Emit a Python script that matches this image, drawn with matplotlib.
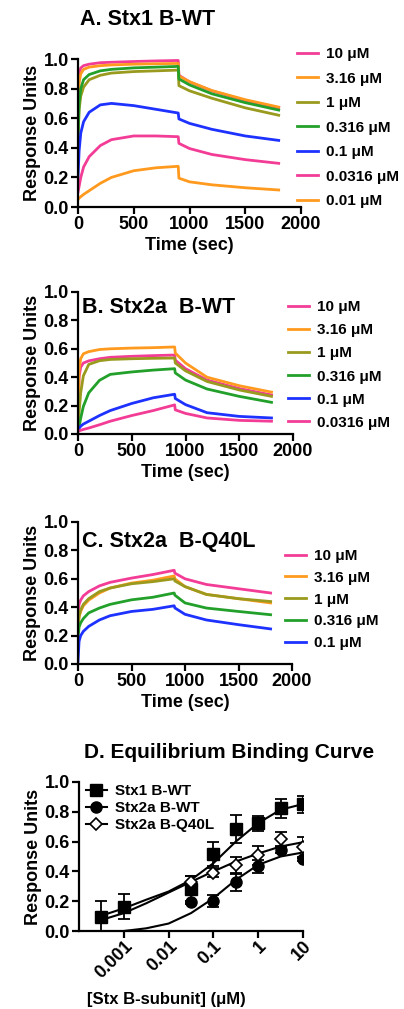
import numpy as np
from matplotlib import pyplot as plt

plt.rcParams['font.family'] = ['Liberation Sans', 'DejaVu Sans']
plt.rcParams['font.weight'] = 'bold'
plt.rcParams['axes.labelweight'] = 'bold'

# sensorgram sample times (sec), injection stops at 900 s
time_s = [0, 10, 25, 50, 100, 200, 300, 500, 700, 899, 905, 1000, 1200, 1500, 1800]

# A. Stx1 B-WT
a_labels = ["10 μM", "3.16 μM", "1 μM", "0.316 μM", "0.1 μM", "0.0316 μM", "0.01 μM"]
a_10 = [0.60, 0.90, 0.94, 0.955, 0.965, 0.975, 0.978, 0.983, 0.987, 0.99, 0.89, 0.845, 0.785, 0.72, 0.67]
a_316 = [0.55, 0.84, 0.90, 0.93, 0.945, 0.955, 0.96, 0.965, 0.968, 0.97, 0.885, 0.847, 0.787, 0.725, 0.675]
a_1 = [0.45, 0.66, 0.75, 0.81, 0.86, 0.89, 0.905, 0.915, 0.92, 0.925, 0.82, 0.785, 0.735, 0.67, 0.62]
a_0316 = [0.45, 0.70, 0.80, 0.86, 0.895, 0.92, 0.93, 0.94, 0.945, 0.95, 0.865, 0.825, 0.765, 0.705, 0.655]
a_01 = [0.20, 0.38, 0.50, 0.576, 0.64, 0.69, 0.70, 0.685, 0.66, 0.635, 0.595, 0.565, 0.525, 0.48, 0.45]
a_00316 = [0.10, 0.14, 0.20, 0.27, 0.34, 0.415, 0.455, 0.48, 0.48, 0.475, 0.43, 0.395, 0.355, 0.32, 0.295]
a_001 = [0.05, 0.06, 0.07, 0.085, 0.11, 0.16, 0.20, 0.245, 0.265, 0.275, 0.195, 0.17, 0.15, 0.13, 0.115]

# B. Stx2a B-WT
b_labels = ["10 μM", "3.16 μM", "1 μM", "0.316 μM", "0.1 μM", "0.0316 μM"]
b_10 = [0.03, 0.40, 0.47, 0.50, 0.515, 0.53, 0.54, 0.547, 0.552, 0.556, 0.52, 0.46, 0.38, 0.32, 0.275]
b_316 = [0.03, 0.45, 0.53, 0.565, 0.58, 0.595, 0.60, 0.605, 0.608, 0.613, 0.57, 0.50, 0.40, 0.34, 0.295]
b_1 = [0.02, 0.15, 0.29, 0.41, 0.49, 0.516, 0.525, 0.53, 0.533, 0.535, 0.50, 0.445, 0.37, 0.31, 0.265]
b_0316 = [0.02, 0.05, 0.11, 0.195, 0.29, 0.378, 0.42, 0.437, 0.45, 0.46, 0.43, 0.38, 0.317, 0.265, 0.223]
b_01 = [0.03, 0.04, 0.055, 0.07, 0.09, 0.13, 0.165, 0.215, 0.255, 0.28, 0.25, 0.207, 0.15, 0.124, 0.113]
b_00316 = [0.02, 0.022, 0.026, 0.032, 0.042, 0.065, 0.09, 0.13, 0.165, 0.205, 0.17, 0.145, 0.113, 0.096, 0.09]

# C. Stx2a B-Q40L
c_labels = ["10 μM", "3.16 μM", "1 μM", "0.316 μM", "0.1 μM"]
c_10 = [0.30, 0.42, 0.45, 0.48, 0.51, 0.55, 0.575, 0.605, 0.63, 0.66, 0.64, 0.60, 0.56, 0.53, 0.50]
c_316 = [0.25, 0.33, 0.37, 0.41, 0.45, 0.50, 0.535, 0.57, 0.59, 0.62, 0.60, 0.545, 0.49, 0.46, 0.43]
c_1 = [0.25, 0.34, 0.38, 0.42, 0.46, 0.51, 0.535, 0.565, 0.58, 0.60, 0.585, 0.545, 0.49, 0.46, 0.44]
c_0316 = [0.18, 0.26, 0.29, 0.32, 0.36, 0.394, 0.42, 0.452, 0.47, 0.50, 0.485, 0.43, 0.394, 0.37, 0.347]
c_01 = [0.02, 0.16, 0.20, 0.23, 0.265, 0.31, 0.34, 0.37, 0.385, 0.41, 0.395, 0.35, 0.31, 0.277, 0.247]

# D. equilibrium binding (uM)
conc = [0.000316, 0.001, 0.0316, 0.1, 0.316, 1, 3.16, 10]
stx1_y = [0.092, 0.164, 0.28, 0.516, 0.686, 0.724, 0.823, 0.85]
stx1_err = [0.11, 0.085, 0.09, 0.08, 0.095, 0.05, 0.063, 0.055]
conc2 = [0.0316, 0.1, 0.316, 1, 3.16, 10]
stx2_y = [0.193, 0.20, 0.327, 0.433, 0.545, 0.484]
stx2_err = [0.01, 0.04, 0.06, 0.045, 0.02, 0.015]
q40l_y = [0.33, 0.39, 0.44, 0.507, 0.617, 0.563]
q40l_err = [0.04, 0.03, 0.055, 0.065, 0.045, 0.07]

# fitted curves
fit_x = [0.000316, 0.001, 0.00316, 0.01, 0.0316, 0.1, 0.316, 1, 3.16, 10]
stx1_fit = [0.103, 0.152, 0.21, 0.265, 0.343, 0.455, 0.60, 0.724, 0.814, 0.852]
q40l_fit = [0.074, 0.12, 0.186, 0.258, 0.33, 0.40, 0.466, 0.52, 0.567, 0.596]
stx2_fit_x = [0.001, 0.00316, 0.01, 0.0316, 0.1, 0.316, 1, 3.16, 10]
stx2_fit = [0.0, 0.018, 0.05, 0.12, 0.22, 0.343, 0.444, 0.50, 0.527]

pink = "#f23c96"
orange = "#ff9a1e"
olive = "#9a9a1e"
green = "#22a02a"
blue = "#1e32ff"

W, H = 404, 1009
fig = plt.figure(figsize=(W / 100, H / 100), dpi=100)


def px_axes(left, right, top, bottom):
    return fig.add_axes([left / W, 1 - bottom / H, (right - left) / W, (bottom - top) / H])


def style(ax):
    for s in ["top", "right"]:
        ax.spines[s].set_visible(False)
    for s in ["left", "bottom"]:
        ax.spines[s].set_linewidth(1.6)
    ax.tick_params(width=1.6, length=5, labelsize=13, pad=1.5)
    for lab in ax.get_xticklabels() + ax.get_yticklabels():
        lab.set_fontweight("bold")


def sensorgram(ax, series, labels, colors, leg_x, leg_y, spacing):
    for y, lab, c in zip(series, labels, colors):
        ax.plot(time_s, y, color=c, lw=2, label=lab)
    ax.set_xlim(0, 2000)
    ax.set_ylim(0, 1.0)
    ax.set_xticks([0, 500, 1000, 1500, 2000])
    ax.set_yticks([0.0, 0.2, 0.4, 0.6, 0.8, 1.0])
    ax.set_xlabel("Time (sec)", fontsize=13, labelpad=3)
    ax.set_ylabel("Response Units", fontsize=13, labelpad=2)
    style(ax)
    fig.legend(loc="upper left", bbox_to_anchor=(leg_x / W, 1 - leg_y / H), frameon=False,
               borderpad=0, borderaxespad=0, handlelength=1.4, handletextpad=0.5,
               labelspacing=spacing, prop={"weight": "bold", "size": 11},
               handles=ax.get_lines())


ax_a = px_axes(78, 301, 59, 207)
sensorgram(ax_a, [a_10, a_316, a_1, a_0316, a_01, a_00316, a_001], a_labels,
           [pink, orange, olive, green, blue, pink, orange], 297, 47, 0.69)
ax_a.text(0.314, 1.264, "A. Stx1 B-WT", transform=ax_a.transAxes, ha="center", va="center",
          fontsize=15.5, fontweight="bold")

ax_b = px_axes(78, 293, 292, 434)
sensorgram(ax_b, [b_10, b_316, b_1, b_0316, b_01, b_00316], b_labels,
           [pink, orange, olive, green, blue, pink], 288, 300, 0.6)
ax_b.text(0.02, 0.894, "B. Stx2a  B-WT", transform=ax_b.transAxes, ha="left", va="center",
          fontsize=15.5, fontweight="bold")

ax_c = px_axes(78, 292, 522, 664)
sensorgram(ax_c, [c_10, c_316, c_1, c_0316, c_01], c_labels,
           [pink, orange, olive, green, blue], 285, 549, 0.51)
ax_c.text(0.02, 0.866, "C. Stx2a  B-Q40L", transform=ax_c.transAxes, ha="left", va="center",
          fontsize=15.5, fontweight="bold")

# D
ax_d = px_axes(79, 303, 782, 931)
ax_d.set_xscale("log")
ax_d.plot(fit_x, stx1_fit, color="black", lw=1.5)
ax_d.plot(fit_x, q40l_fit, color="black", lw=1.5)
ax_d.plot(stx2_fit_x, stx2_fit, color="black", lw=1.5)
ax_d.errorbar(conc, stx1_y, yerr=stx1_err, fmt="none", ecolor="black", elinewidth=1.3, capsize=4, capthick=1.3)
ax_d.errorbar(conc2, stx2_y, yerr=stx2_err, fmt="none", ecolor="black", elinewidth=1.3, capsize=4, capthick=1.3)
ax_d.errorbar(conc2, q40l_y, yerr=q40l_err, fmt="none", ecolor="black", elinewidth=1.3, capsize=4, capthick=1.3)
ax_d.plot(conc, stx1_y, ls="none", marker="s", ms=8, color="black")
ax_d.plot(conc2, stx2_y, ls="none", marker="o", ms=8, color="black")
ax_d.plot(conc2, q40l_y, ls="none", marker="D", ms=6.5, mfc="white", mec="black", mew=1.2)
h1, = ax_d.plot([], [], color="black", lw=1.5, marker="s", ms=8)
h2, = ax_d.plot([], [], color="black", lw=1.5, marker="o", ms=8)
h3, = ax_d.plot([], [], color="black", lw=1.5, marker="D", ms=6.5, mfc="white", mec="black", mew=1.2)
ax_d.legend([h1, h2, h3], ["Stx1 B-WT", "Stx2a B-WT", "Stx2a B-Q40L"], loc="upper left",
            bbox_to_anchor=(0.03, 0.985), frameon=False, borderpad=0, borderaxespad=0,
            handlelength=1.4, handletextpad=0.5, labelspacing=0.2, prop={"weight": "bold", "size": 11})
ax_d.set_xlim(1e-4, 10)
ax_d.set_ylim(0, 1.0)
ax_d.set_xticks([0.001, 0.01, 0.1, 1, 10])
ax_d.set_xticklabels(["0.001", "0.01", "0.1", "1", "10"], rotation=45, ha="right", va="top",
                     rotation_mode="anchor")
ax_d.set_yticks([0.0, 0.2, 0.4, 0.6, 0.8, 1.0])
style(ax_d)
ax_d.tick_params(axis="x", which="major", pad=0)
ax_d.tick_params(axis="x", which="minor", width=1.2, length=3)
ax_d.set_ylabel("Response Units", fontsize=13, labelpad=2)
ax_d.set_xlabel("[Stx B-subunit] (μM)", fontsize=12)
ax_d.xaxis.set_label_coords(0.39, -0.41)
ax_d.text(0.67, 1.2, "D. Equilibrium Binding Curve", transform=ax_d.transAxes, ha="center",
          va="center", fontsize=15, fontweight="bold")

fig.savefig("out.png", dpi=100)
